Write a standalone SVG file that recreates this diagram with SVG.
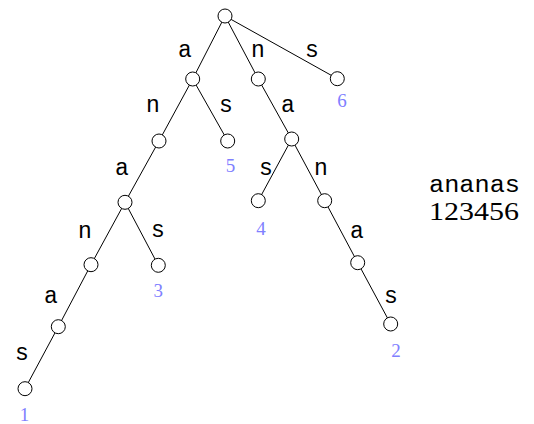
<svg xmlns="http://www.w3.org/2000/svg" width="534" height="424" viewBox="0 0 534 424">
<style>
.e{stroke:#000;stroke-width:1;fill:none}
.n{fill:#fff;stroke:#000;stroke-width:1}
.l{font-family:"Liberation Mono",monospace;font-size:23px;fill:#000;text-anchor:middle}
.i{font-family:"Liberation Serif",serif;font-size:19px;fill:#8080ff;text-anchor:middle}
.t{font-family:"Liberation Mono",monospace;font-size:23px;fill:#000}
.d{font-family:"Liberation Serif",serif;font-size:26px;fill:#000}
</style>
<rect width="534" height="424" fill="#fff"/>
<g id="connectors">
<line class="e" x1="225" y1="16" x2="192.7" y2="79"/>
<line class="e" x1="225" y1="16" x2="258.3" y2="79"/>
<line class="e" x1="225" y1="16" x2="337.3" y2="78.7"/>
<line class="e" x1="192.7" y1="79" x2="159" y2="141"/>
<line class="e" x1="192.7" y1="79" x2="227.7" y2="141"/>
<line class="e" x1="258.3" y1="79" x2="291.7" y2="139"/>
<line class="e" x1="159" y1="141" x2="125" y2="202.3"/>
<line class="e" x1="291.7" y1="139" x2="258.3" y2="200.7"/>
<line class="e" x1="291.7" y1="139" x2="324.7" y2="200.7"/>
<line class="e" x1="125" y1="202.3" x2="91" y2="264.7"/>
<line class="e" x1="125" y1="202.3" x2="158.3" y2="265.3"/>
<line class="e" x1="324.7" y1="200.7" x2="357.7" y2="262.7"/>
<line class="e" x1="91" y1="264.7" x2="58.3" y2="326.7"/>
<line class="e" x1="357.7" y1="262.7" x2="390.7" y2="324"/>
<line class="e" x1="58.3" y1="326.7" x2="25" y2="388.7"/>
</g>
<g id="edge-labels">
<text class="l" x="185" y="57">a</text>
<text class="l" x="258" y="57">n</text>
<text class="l" x="312" y="57">s</text>
<text class="l" x="153" y="112">n</text>
<text class="l" x="226" y="112">s</text>
<text class="l" x="288" y="112">a</text>
<text class="l" x="122" y="175">a</text>
<text class="l" x="266" y="175">s</text>
<text class="l" x="321" y="175">n</text>
<text class="l" x="158" y="237">s</text>
<text class="l" x="85" y="238">n</text>
<text class="l" x="357" y="238">a</text>
<text class="l" x="51" y="303">a</text>
<text class="l" x="391" y="303">s</text>
<text class="l" x="22" y="360">s</text>
</g>
<g id="root"><circle class="n" cx="225" cy="16" r="7"/></g>
<g id="node-a"><circle class="n" cx="192.7" cy="79" r="7"/></g>
<g id="node-n"><circle class="n" cx="258.3" cy="79" r="7"/></g>
<g id="node-s"><circle class="n" cx="337.3" cy="78.7" r="7"/><text class="i" x="342" y="107">6</text></g>
<g id="node-an"><circle class="n" cx="159" cy="141" r="7"/></g>
<g id="node-as"><circle class="n" cx="227.7" cy="141" r="7"/><text class="i" x="230.5" y="172">5</text></g>
<g id="node-na"><circle class="n" cx="291.7" cy="139" r="7"/></g>
<g id="node-ana"><circle class="n" cx="125" cy="202.3" r="7"/></g>
<g id="node-nas"><circle class="n" cx="258.3" cy="200.7" r="7"/><text class="i" x="261" y="235">4</text></g>
<g id="node-nan"><circle class="n" cx="324.7" cy="200.7" r="7"/></g>
<g id="node-anan"><circle class="n" cx="91" cy="264.7" r="7"/></g>
<g id="node-anas"><circle class="n" cx="158.3" cy="265.3" r="7"/><text class="i" x="158.3" y="297">3</text></g>
<g id="node-nana"><circle class="n" cx="357.7" cy="262.7" r="7"/></g>
<g id="node-anana"><circle class="n" cx="58.3" cy="326.7" r="7"/></g>
<g id="node-nanas"><circle class="n" cx="390.7" cy="324" r="7"/><text class="i" x="396" y="357">2</text></g>
<g id="node-ananas"><circle class="n" cx="25" cy="388.7" r="7"/><text class="i" x="24.5" y="421">1</text></g>
<g id="legend">
<text class="t" x="429" y="192" textLength="91" lengthAdjust="spacingAndGlyphs">ananas</text>
<text class="d" x="429" y="220" textLength="90" lengthAdjust="spacingAndGlyphs">123456</text>
</g>
</svg>
